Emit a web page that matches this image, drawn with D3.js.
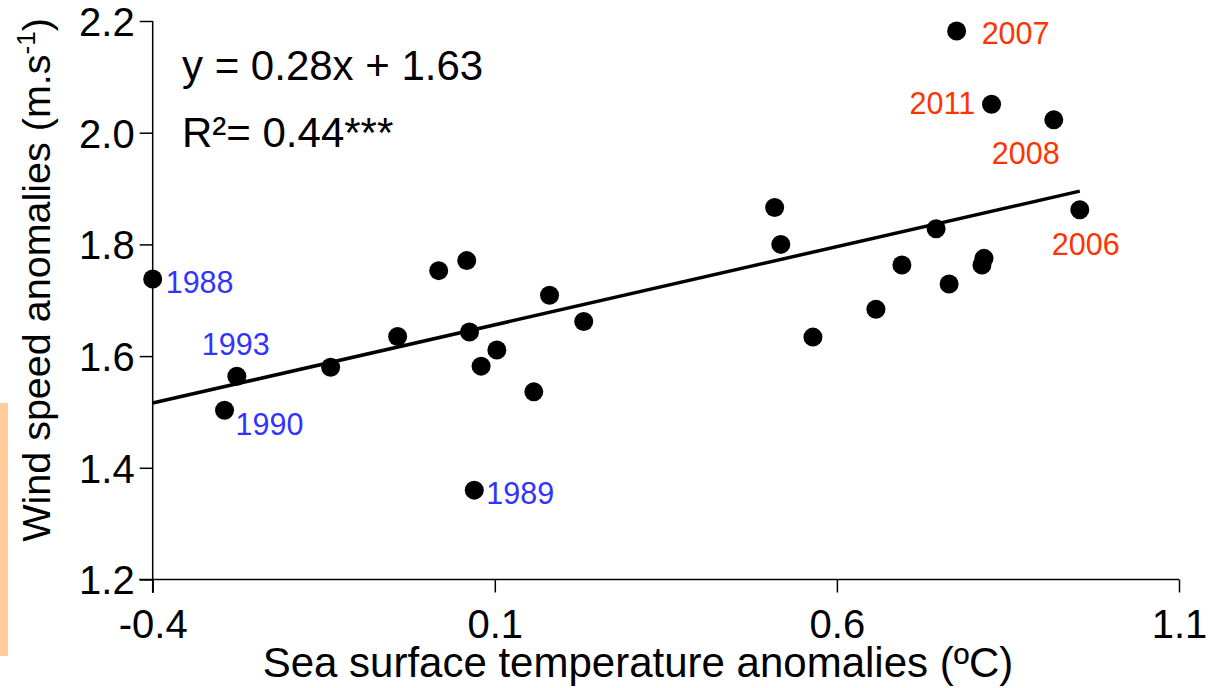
<!DOCTYPE html>
<html>
<head>
<meta charset="utf-8">
<script src="https://cdn.jsdelivr.net/npm/d3@7"></script>
<style>
  html, body { margin: 0; padding: 0; background: #fff; }
  svg { display: block; font-family: "Liberation Sans", Arial, sans-serif; }
</style>
</head>
<body>
<svg id="chart" width="1222" height="688"></svg>
<script>
// ---- data ----
const sstValues = [-0.400, -0.277, -0.295, -0.140, -0.042, 0.018, 0.059, 0.063, 0.103, 0.080,
  0.157, 0.180, 0.230, 0.070, 0.509, 0.518, 0.565, 0.775, 0.826, 0.917,
  0.955, 0.745, 0.695, 0.764, 0.815, 0.812, 0.657];
const windValues = [1.738, 1.564, 1.503, 1.580, 1.635, 1.753, 1.771, 1.643, 1.611, 1.582,
  1.536, 1.709, 1.662, 1.360, 1.866, 1.800, 1.634, 2.182, 2.051, 2.023,
  1.862, 1.828, 1.763, 1.729, 1.775, 1.763, 1.684];
const yearLabels = ["1988", "1993", "1990", "", "", "", "", "", "", "",
  "", "", "", "1989", "", "", "", "2007", "2011", "2008",
  "2006", "", "", "", "", "", ""];
const labelGroups = ["cold", "cold", "cold", "", "", "", "", "", "", "",
  "", "", "", "cold", "", "", "", "warm", "warm", "warm",
  "warm", "", "", "", "", "", ""];
const xTicks = [-0.4, 0.1, 0.6, 1.1];
const yTicks = [1.2, 1.4, 1.6, 1.8, 2.0, 2.2];
const xTickLabels = ["-0.4", "0.1", "0.6", "1.1"];
const yTickLabels = ["1.2", "1.4", "1.6", "1.8", "2.0", "2.2"];
const fitSlope = 0.28;
const fitIntercept = 1.628;
const fitRange = [-0.4, 0.955];
const equationText = "y = 0.28x + 1.63";
const r2Text = "R²= 0.44***";

// ---- layout ----
const svg = d3.select("#chart");
const x = d3.scaleLinear().domain([-0.4, 1.1]).range([152.7, 1179]);
const y = d3.scaleLinear().domain([1.2, 2.2]).range([579.5, 21]);
const colors = { cold: "#3333ff", warm: "#ff3300" };

// label offsets (dx, dy relative to point, start anchor)
const labelOffset = {
  "1988": [13, 14], "1993": [-35, -21], "1990": [11, 25], "1989": [12, 14],
  "2007": [25, 13], "2011": [-82, 10], "2008": [-62, 44], "2006": [-28, 45]
};

// orange side bar
svg.append("rect").attr("x", 0).attr("y", 403).attr("width", 8).attr("height", 253).attr("fill", "#ffcc99");

// axes
const xAxis = d3.axisBottom(x).tickValues(xTicks).tickSize(13).tickSizeOuter(0)
  .tickFormat((d, i) => xTickLabels[i]);
const gx = svg.append("g").attr("transform", `translate(0,${y(1.2)})`).call(xAxis);
gx.select(".domain").attr("d", `M${x(-0.4) - 13.5},0H${x(1.1)}`).attr("stroke", "#000").attr("stroke-width", 1.5);
gx.selectAll(".tick line").attr("stroke", "#000").attr("stroke-width", 1.5);
gx.selectAll(".tick text").attr("font-size", 40).attr("fill", "#000").attr("dy", 0).attr("y", 58)
  .attr("font-family", "Liberation Sans, Arial, sans-serif");

const yAxis = d3.axisLeft(y).tickValues(yTicks).tickSize(13).tickSizeOuter(0)
  .tickFormat((d, i) => yTickLabels[i]);
const gy = svg.append("g").attr("transform", `translate(${x(-0.4)},0)`).call(yAxis);
gy.select(".domain").attr("d", `M0,${y(2.2)}V${y(1.2) + 13.5}`).attr("stroke", "#000").attr("stroke-width", 1.5);
gy.selectAll(".tick line").attr("stroke", "#000").attr("stroke-width", 1.5);
gy.selectAll(".tick text").attr("font-size", 40).attr("fill", "#000").attr("x", -18).attr("dy", "0.36em")
  .attr("font-family", "Liberation Sans, Arial, sans-serif");

// regression line
svg.append("line")
  .attr("x1", x(fitRange[0])).attr("y1", y(fitSlope * fitRange[0] + fitIntercept))
  .attr("x2", x(fitRange[1])).attr("y2", y(fitSlope * fitRange[1] + fitIntercept))
  .attr("stroke", "#000").attr("stroke-width", 3.5);

// points
const pts = sstValues.map((v, i) => ({ sx: v, wy: windValues[i], label: yearLabels[i], group: labelGroups[i] }));
svg.append("g").selectAll("circle").data(pts).join("circle")
  .attr("cx", d => x(d.sx)).attr("cy", d => y(d.wy)).attr("r", 9.5).attr("fill", "#000");

// year labels
svg.append("g").selectAll("text").data(pts.filter(d => d.label)).join("text")
  .attr("x", d => x(d.sx) + labelOffset[d.label][0])
  .attr("y", d => y(d.wy) + labelOffset[d.label][1])
  .attr("font-size", 30.5).attr("fill", d => colors[d.group]).text(d => d.label);

// equation
svg.append("text").attr("x", 182).attr("y", 80).attr("font-size", 42).attr("fill", "#000").text(equationText);
svg.append("text").attr("x", 182).attr("y", 147).attr("font-size", 42).attr("fill", "#000").text(r2Text);

// axis titles
svg.append("text").attr("x", 638).attr("y", 677).attr("text-anchor", "middle").attr("font-size", 42)
  .attr("fill", "#000").text("Sea surface temperature anomalies (ºC)");
const yt = svg.append("text").attr("transform", "translate(50,280) rotate(-90)").attr("text-anchor", "middle")
  .attr("font-size", 39.5).attr("fill", "#000");
yt.append("tspan").text("Wind speed anomalies (m.s");
yt.append("tspan").attr("dy", -15).attr("font-size", 26).text("-1");
yt.append("tspan").attr("dy", 15).text(")");
</script>
</body>
</html>
